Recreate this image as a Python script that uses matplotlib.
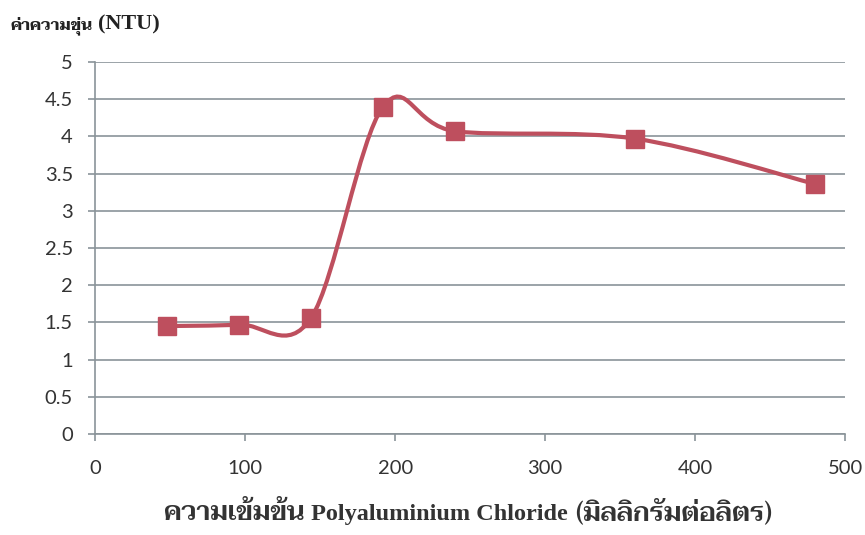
import numpy as np
import matplotlib.pyplot as plt
from matplotlib.path import Path
from matplotlib.patches import PathPatch
from matplotlib.ticker import FuncFormatter

# PAC dose (mg/L) vs turbidity (NTU)
conc = [48, 96, 144, 192, 240, 360, 480]
ntu = [1.45, 1.47, 1.56, 4.40, 4.07, 3.97, 3.36]

xlabel_parts = ['ความเข้มข้น', 'Polyaluminium Chloride', '(มิลลิกรัมต่อลิตร)']
ylabel_parts = ['ค่าความขุ่น', '(NTU)']

red = '#BE4F5E'
grey = '#8A9499'
thai_font = ['Taviraj', 'Liberation Serif']
latin_font = ['Liberation Serif']


def smooth_path(x, y):
    # excel-like smoothed line: cubic bezier with catmull-rom control points
    p = np.column_stack([x, y]).astype(float)
    n = len(p)
    verts = [p[0]]
    codes = [Path.MOVETO]
    for i in range(n - 1):
        p0 = p[i - 1] if i > 0 else p[i]
        p1 = p[i]
        p2 = p[i + 1]
        p3 = p[i + 2] if i + 2 < n else p[i + 1]
        verts += [p1 + (p2 - p0) / 6, p2 - (p3 - p1) / 6, p2]
        codes += [Path.CURVE4] * 3
    return Path(verts, codes)


def mixed_text(fig, pieces, x, y, ha='left', gap=5):
    # several text pieces on one baseline, each with its own font
    texts = [fig.text(0, y, s, va='baseline', ha='left', **kw) for s, kw in pieces]
    fig.canvas.draw()
    r = fig.canvas.get_renderer()
    W = fig.get_figwidth() * fig.dpi
    widths = [t.get_window_extent(r).width for t in texts]
    total = sum(widths) + gap * (len(texts) - 1)
    px = x * W - (total / 2 if ha == 'center' else 0)
    for t, w in zip(texts, widths):
        t.set_x(px / W)
        px += w + gap
    return texts


fig = plt.figure(figsize=(8.65, 5.35), dpi=100)
ax = fig.add_axes([0.11, 0.189, 0.867, 0.695])

ax.add_patch(PathPatch(smooth_path(conc, ntu), facecolor='none', edgecolor=red,
                       linewidth=3, capstyle='round', zorder=3))
ax.plot(conc, ntu, linestyle='none', marker='s', markersize=13, color=red, zorder=4)

ax.set_xlim(0, 500)
ax.set_ylim(0, 5)
ax.set_xticks(np.arange(0, 501, 100))
ax.set_yticks(np.arange(0, 5.01, 0.5))
ax.yaxis.set_major_formatter(FuncFormatter(lambda v, p: '{:g}'.format(v)))
ax.grid(axis='y', color=grey, linewidth=1.2)
ax.set_axisbelow(True)

for s in ['top', 'right']:
    ax.spines[s].set_visible(False)
for s in ['left', 'bottom']:
    ax.spines[s].set_color(grey)
    ax.spines[s].set_linewidth(1.2)

ax.tick_params(axis='y', length=5, width=1.2, color=grey, pad=11,
               labelsize=14.5, labelcolor='#333333')
ax.tick_params(axis='x', length=5, width=1.2, color=grey, pad=14,
               labelsize=14.5, labelcolor='#333333')
for lab in ax.get_xticklabels() + ax.get_yticklabels():
    lab.set_fontfamily('Lato')

mixed_text(fig, [(ylabel_parts[0], dict(family=thai_font, fontsize=11.5, fontweight='bold',
                                        color='#222222')),
                 (ylabel_parts[1], dict(family=latin_font, fontsize=16, fontweight='bold',
                                        color='#222222'))],
           0.012, 0.945, ha='left', gap=5)
mixed_text(fig, [(xlabel_parts[0], dict(family=thai_font, fontsize=19, fontweight='semibold',
                                        color='#333333')),
                 (xlabel_parts[1], dict(family=latin_font, fontsize=17.5, fontweight='bold',
                                        color='#333333')),
                 (xlabel_parts[2], dict(family=thai_font, fontsize=19, fontweight='semibold',
                                        color='#333333'))],
           0.541, 0.028, ha='center', gap=7)

fig.savefig('out.png')
